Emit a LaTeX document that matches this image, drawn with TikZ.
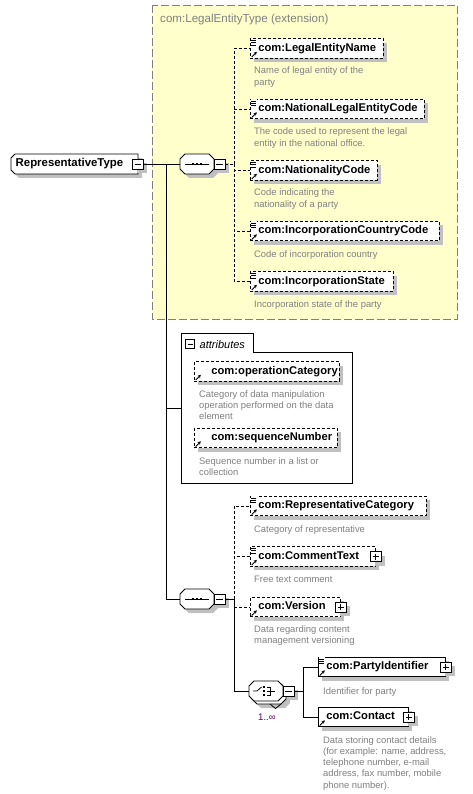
\documentclass[tikz,border=0pt]{standalone}
\usepackage{fontspec}
\setmainfont{Liberation Sans}
\usetikzlibrary{shadows,calc,arrows.meta}
\definecolor{ylw}{RGB}{255,255,204}
\definecolor{shgray}{RGB}{192,192,192}
\definecolor{dgray}{RGB}{128,128,128}
\definecolor{multc}{RGB}{96,0,96}
\newcommand\dtext[1]{\begin{tabular}[t]{@{}l@{}}#1\end{tabular}}
\newcommand\annicon[1]{%
  \fill[white] ($(#1.north west)+(0.6,0.6)$) rectangle ++(6.5,6.5);
  \draw[line width=0.8pt] ($(#1.north west)+(1.2,2.2)$) -- ++(5,0)
    ($(#1.north west)+(1.2,4.4)$) -- ++(5,0)
    ($(#1.north west)+(1.2,6.6)$) -- ++(5,0);}
\newcommand\refarr[1]{%
  \draw[line width=0.9pt,-{Stealth[length=3.2pt,width=3.4pt]}] ($(#1.south west)+(1.6,-1.6)$) -- ++(5.2,-5.2);}
% octagon round a node: node, chamfer, dx, dy
\newcommand\octo[4]{($(#1.north west)+(#2+#3,#4)$) -- ($(#1.north east)+(-#2+#3,#4)$) -- ($(#1.north east)+(#3,#2+#4)$) -- ($(#1.south east)+(#3,-#2+#4)$) -- ($(#1.south east)+(-#2+#3,#4)$) -- ($(#1.south west)+(#2+#3,#4)$) -- ($(#1.south west)+(#3,-#2+#4)$) -- ($(#1.north west)+(#3,#2+#4)$) -- cycle}
% left-chamfered box round a node
\newcommand\lefto[4]{($(#1.north west)+(#2+#3,#4)$) -- ($(#1.north east)+(#3,#4)$) -- ($(#1.south east)+(#3,#4)$) -- ($(#1.south west)+(#2+#3,#4)$) -- ($(#1.south west)+(#3,-#2+#4)$) -- ($(#1.north west)+(#3,#2+#4)$) -- cycle}
\tikzset{
  x=1pt, y=-1pt,
  shad/.style={drop shadow={shadow xshift=4pt,shadow yshift=-4pt,opacity=1,fill=shgray}},
  elem/.style={shad, draw, fill=white, line width=0.8pt, anchor=west, minimum height=19.5pt,
    inner xsep=0pt, inner ysep=0pt, text height=8.2pt, text depth=2.4pt,
    text width=#1, align=left,
    font=\fontsize{11.2}{13}\selectfont\bfseries,
    execute at begin node=\hspace*{8pt}},
  opt/.style={dash pattern=on 3pt off 2pt},
  desc/.style={anchor=base west, inner sep=0pt, text=dgray, font=\fontsize{9.4}{11.3}\selectfont},
  pmbox/.style={shad, draw, fill=white, line width=0.8pt, minimum width=10.5pt, minimum height=10pt, inner sep=0pt},
  plusbox/.style={pmbox, path picture={\draw[line width=0.8pt]
      ($(path picture bounding box.west)+(2,0)$) -- ($(path picture bounding box.east)+(-2,0)$)
      ($(path picture bounding box.north)+(0,2)$) -- ($(path picture bounding box.south)+(0,-2)$);}},
  minusbox/.style={pmbox, path picture={\draw[line width=0.8pt]
      ($(path picture bounding box.west)+(2,0)$) -- ($(path picture bounding box.east)+(-2,0)$);}},
  compo/.style={rectangle, minimum width=34pt, minimum height=20pt, inner sep=0pt, outer sep=0pt, anchor=west},
  octline/.style={line width=0.8pt, fill=white},
  conn/.style={line width=0.8pt},
  dconn/.style={conn, dash pattern=on 3pt off 2pt},
}
\begin{document}
\begin{tikzpicture}
\useasboundingbox[fill=white] (0,0) rectangle (473,794);
% extension frame
\draw[fill=ylw, draw=dgray, line width=0.9pt, dash pattern=on 8pt off 3pt] (152,5) rectangle (457,319);
\node[anchor=base west, inner sep=0pt, text=dgray, font=\fontsize{11.6}{13}\selectfont] (ttl) at (160,23) {com:LegalEntityType (extension)};

% root
\node[compo, minimum width=127pt] (rt) at (11,164) {};
\fill[shgray] \lefto{rt}{4}{4}{4};
\draw[octline] \lefto{rt}{4}{0}{0};
\node[anchor=west, inner sep=0pt, font=\fontsize{11.4}{13}\selectfont\bfseries] (rtt) at (15.5,164) {RepresentativeType};
\node[minusbox] (rtm) at (rt.east) {};

% upper sequence
\node[compo] (seq1) at (180,164) {};
\fill[shgray] \octo{seq1}{5}{4}{4};
\draw[octline] \octo{seq1}{5}{0}{0};
\node[minusbox, anchor=west] (seq1m) at (seq1.east) {};
\draw[conn] ($(seq1.west)+(5,0)$) -- ($(seq1.east)+(-5,0)$);
\foreach \dx in {-4,0,4} \fill ($(seq1.center)+(\dx-1.3,-1.3)$) rectangle ++(2.6,2.6);
\draw[conn] (rtm.east) -- (seq1.west);
\coordinate (b1) at (234,164);

% upper elements
\node[elem=133pt, opt] (len) at (250,48.5) {com:LegalEntityName};
\node[elem=174pt, opt] (nlec) at (250,109) {com:NationalLegalEntityCode};
\node[elem=127pt, opt] (nac) at (250,170.5) {com:NationalityCode};
\node[elem=189pt, opt] (icc) at (250,231) {com:IncorporationCountryCode};
\node[elem=143pt, opt] (ist) at (250,281.5) {com:IncorporationState};
\foreach \n in {len,nlec,nac,icc,ist} {\annicon{\n}\refarr{\n}}
\draw[dconn] (seq1m.east) -- (b1);
\foreach \n in {len,nlec,nac,icc,ist} \draw[dconn] (b1) |- (\n.west);

\node[desc] (lend) at (254,74) {\dtext{Name of legal entity of the\\party}};
\node[desc] (nlecd) at (254,135) {\dtext{The code used to represent the legal\\entity in the national office.}};
\node[desc] (nacd) at (254,196) {\dtext{Code indicating the\\nationality of a party}};
\node[desc] (iccd) at (254,257) {\dtext{Code of incorporation country}};
\node[desc] (istd) at (254,307) {\dtext{Incorporation state of the party}};

% main bus
\coordinate (b0) at (166,164);

% attributes group
\draw[line width=0.8pt, fill=white] (181,333) -- (253,333) -- (253,352) -- (352,352) -- (352,483) -- (181,483) -- cycle;
\coordinate (attrin) at (181,408);
\node[draw, fill=white, line width=0.8pt, minimum width=9pt, minimum height=9pt, inner sep=0pt, path picture={\draw[line width=0.8pt]
      ($(path picture bounding box.west)+(2,0)$) -- ($(path picture bounding box.east)+(-2,0)$);}] (attm) at (190,344) {};
\node[anchor=base west, inner sep=0pt, font=\fontsize{11}{13}\selectfont\itshape] (attl) at (199.5,348) {attributes};
\node[elem=145pt, opt, execute at begin node=\hspace*{9pt}] (opc) at (194,371.5) {com:operationCategory};
\node[elem=143pt, opt, execute at begin node=\hspace*{9pt}] (sqn) at (194,438) {com:sequenceNumber};
\refarr{opc}\refarr{sqn}
\node[desc] (opcd) at (199,397) {\dtext{Category of data manipulation\\operation performed on the data\\element}};
\node[desc] (sqnd) at (199,464) {\dtext{Sequence number in a list or\\collection}};

% lower sequence
\node[compo] (seq2) at (180,599) {};
\fill[shgray] \octo{seq2}{5}{4}{4};
\draw[octline] \octo{seq2}{5}{0}{0};
\node[minusbox, anchor=west] (seq2m) at (seq2.east) {};
\draw[conn] ($(seq2.west)+(5,0)$) -- ($(seq2.east)+(-5,0)$);
\foreach \dx in {-4,0,4} \fill ($(seq2.center)+(\dx-1.3,-1.3)$) rectangle ++(2.6,2.6);
\draw[conn] (b0) |- (seq2.west);
\draw[conn] (b0 |- attrin) -- (attrin);
\coordinate (b2) at (234,599);

% lower elements
\node[elem=176pt, opt] (rcat) at (250,506) {com:RepresentativeCategory};
\node[elem=125pt, opt] (ctx) at (250,556.5) {com:CommentText};
\node[elem=90pt, opt] (ver) at (250,607) {com:Version};
\node[plusbox] (ctxp) at (ctx.east) {};
\node[plusbox] (verp) at (ver.east) {};
\annicon{rcat}\refarr{rcat}\annicon{ctx}\refarr{ctx}\refarr{ver}
\node[desc] (rcatd) at (254,532) {\dtext{Category of representative}};
\node[desc] (ctxd) at (254,582) {\dtext{Free text comment}};
\node[desc] (verd) at (254,632) {\dtext{Data regarding content\\management versioning}};

% choice
\node[compo] (ch) at (249,691) {};
\fill[shgray] \octo{ch}{5}{7}{7};
\draw[octline] \octo{ch}{5}{3}{3};
\draw[conn] (270,704) -- (275.5,708.5) -- (281,704);
\draw[octline] \octo{ch}{5}{0}{0};
\node[minusbox, anchor=west] (chm) at (ch.east) {};
\draw[conn] ($(ch.center)+(-13,0)$) -- ($(ch.center)+(-9,0)$) -- ($(ch.center)+(-4.5,-4)$);
\foreach \dy in {-4,0,4} \fill ($(ch.center)+(-3.3,\dy-1.2)$) rectangle ++(2.4,2.4);
\draw[conn] ($(ch.center)+(0.5,-4)$) -- ($(ch.center)+(4,-4)$) -- ($(ch.center)+(4,4)$) -- ($(ch.center)+(0.5,4)$)
  ($(ch.center)+(0.5,0)$) -- ($(ch.center)+(9,0)$);
\node[anchor=base west, inner sep=0pt, text=multc, font=\fontsize{9.6}{11}\selectfont] (mul) at (258,720) {1..∞};

\draw[conn] (b2) |- (ch.west);
\draw[conn] (seq2m.east) -- (b2);
\foreach \n in {rcat,ctx} \draw[dconn] (b2) |- (\n.west);
\draw[dconn] (b2 |- ver.west) -- (ver.west);

\coordinate (b3) at (303,691);
\node[elem=127pt] (pid) at (318,667) {com:PartyIdentifier};
\node[elem=90pt] (con) at (318,717) {com:Contact};
\node[plusbox] (pidp) at (pid.east) {};
\node[plusbox] (conp) at (con.east) {};
\annicon{pid}\refarr{pid}\refarr{con}
\draw[conn] (chm.east) -- (b3);
\draw[conn] (b3) |- (pid.west);
\draw[conn] (b3) |- (con.west);
\node[desc] (pidd) at (323,694) {\dtext{Identifier for party}};
\node[desc] (cond) at (323,743) {\dtext{Data storing contact details\\(for example: name, address,\\telephone number, e-mail\\address, fax number, mobile\\phone number).}};
\end{tikzpicture}
\end{document}
